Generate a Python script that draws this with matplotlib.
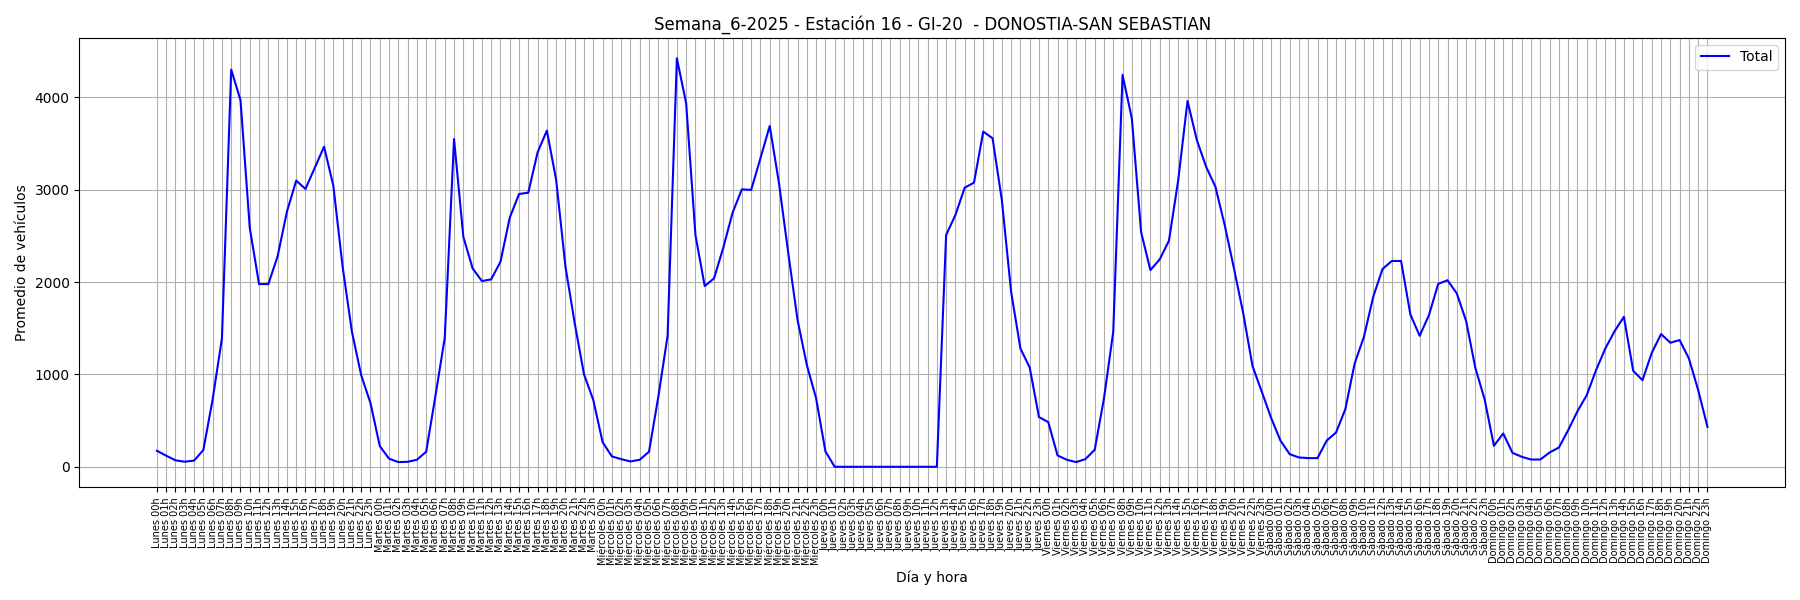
import matplotlib
matplotlib.use("Agg")
import matplotlib.pyplot as plt

dias = ["Lunes", "Martes", "Miércoles", "Jueves", "Viernes", "Sábado", "Domingo"]
horas = [f"{h:02d}h" for h in range(24)]
etiquetas = [f"{d} {h}" for d in dias for h in horas]

lunes = [173, 120, 70, 55, 67, 182, 730, 1390, 4300, 3970, 2585, 1978,
         1978, 2280, 2762, 3098, 3008, 3237, 3466, 3043, 2166, 1462, 992, 690]
martes = [225, 88, 51, 54, 76, 163, 770, 1397, 3549, 2491, 2148, 2011,
          2029, 2220, 2697, 2953, 2968, 3405, 3640, 3105, 2166, 1552, 1000, 722]
miercoles = [267, 112, 83, 58, 76, 163, 758, 1418, 4423, 3936, 2509, 1957,
             2040, 2372, 2751, 3004, 2997, 3340, 3690, 3069, 2311, 1588, 1101, 740]
jueves = [166, 0, 0, 0, 0, 0, 0, 0, 0, 0, 0, 0,
          0, 2509, 2726, 3022, 3076, 3629, 3557, 2888, 1895, 1281, 1075, 538]
viernes = [484, 123, 76, 51, 83, 184, 740, 1462, 4243, 3773, 2540, 2130,
           2245, 2448, 3105, 3961, 3538, 3249, 3033, 2618, 2148, 1661, 1090, 812]
sabado = [530, 285, 137, 101, 94, 94, 285, 372, 625, 1119, 1408, 1841,
          2141, 2228, 2228, 1650, 1418, 1642, 1980, 2020, 1877, 1580, 1070, 730]
domingo = [227, 361, 151, 108, 79, 79, 155, 209, 397, 602, 776, 1047,
           1281, 1469, 1624, 1039, 938, 1234, 1437, 1343, 1372, 1173, 830, 432]

total = lunes + martes + miercoles + jueves + viernes + sabado + domingo

fig, ax = plt.subplots(figsize=(18, 6), dpi=100)
ax.plot(etiquetas, total, color="blue", label="Total")
ax.set_xticks(range(len(etiquetas)))
ax.set_xticklabels(etiquetas, rotation=90, fontsize=7)
ax.set(xlabel="Día y hora", ylabel="Promedio de vehículos",
       title="Semana_6-2025 - Estación 16 - GI-20  - DONOSTIA-SAN SEBASTIAN")
ax.grid(True)
ax.legend(loc="upper right")
fig.tight_layout()
fig.savefig("out.png")
